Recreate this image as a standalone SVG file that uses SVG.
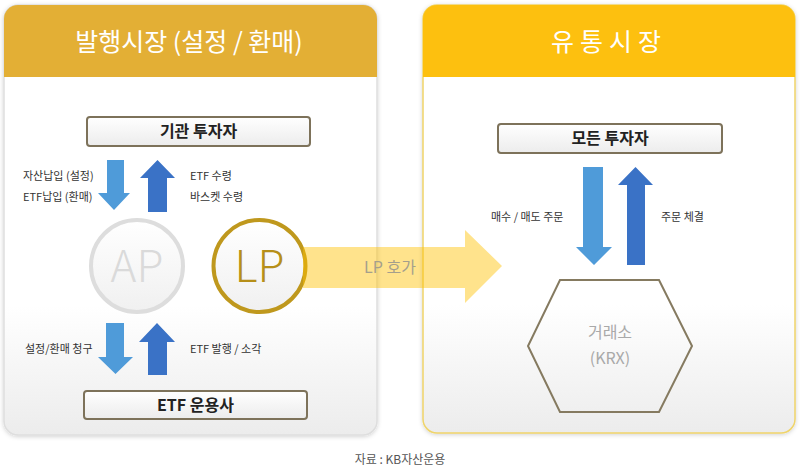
<svg xmlns="http://www.w3.org/2000/svg" width="801" height="473" viewBox="0 0 801 473">
<defs>
<linearGradient id="panelG" x1="0" y1="0" x2="0" y2="1">
<stop offset="0" stop-color="#ffffff"/><stop offset="0.7" stop-color="#ffffff"/><stop offset="1" stop-color="#ececec"/>
</linearGradient>
<linearGradient id="boxG" x1="0" y1="0" x2="0" y2="1">
<stop offset="0" stop-color="#ffffff"/><stop offset="1" stop-color="#ececec"/>
</linearGradient>
<linearGradient id="circG" x1="0" y1="0" x2="0" y2="1">
<stop offset="0" stop-color="#ffffff"/><stop offset="1" stop-color="#f0f0f0"/>
</linearGradient>
<filter id="sh" x="-5%" y="-5%" width="110%" height="110%">
<feDropShadow dx="0" dy="1" stdDeviation="2" flood-color="#000" flood-opacity="0.18"/>
</filter>
</defs>
<style>
text{font-family:"Noto Sans CJK KR","Noto Sans",sans-serif}
.hd{fill:#fff;font-size:25px;text-anchor:middle}
.bx{fill:url(#boxG);stroke:#7d725a;stroke-width:2}
.bt{font-size:16px;font-weight:bold;fill:#222;text-anchor:middle}
.lb{font-size:11px;fill:#333}
.dn{fill:#4f9bd9}
.up{fill:#3a72c6}
.cl{font-size:44px;text-anchor:middle;font-weight:300}
</style>
<g id="panel-left">
<rect x="4" y="5" width="373" height="430" rx="14" fill="url(#panelG)" stroke="#dedede" stroke-width="1.5" filter="url(#sh)"/>
<path d="M4 77 V19 a14 14 0 0 1 14 -14 H363 a14 14 0 0 1 14 14 V77 Z" fill="#e3af35"/>
<text class="hd" x="189" y="51">발행시장 (설정 / 환매)</text>
</g>
<g id="panel-right">
<rect x="423" y="5" width="372" height="428" rx="14" fill="url(#panelG)" stroke="#efd46a" stroke-width="1.5" filter="url(#sh)"/>
<path d="M423 77 V19 a14 14 0 0 1 14 -14 H781 a14 14 0 0 1 14 14 V77 Z" fill="#fdc00f"/>
<text class="hd" x="609" y="51" letter-spacing="6">유통시장</text>
</g>
<g id="node-institutional">
<rect class="bx" x="87" y="117" width="223" height="29" rx="3"/>
<text class="bt" x="198.5" y="137">기관 투자자</text>
</g>
<g id="node-ap">
<circle cx="137" cy="266" r="46" fill="url(#circG)" stroke="#dddddd" stroke-width="4"/>
<text class="cl" x="137" y="282" fill="#dadada">AP</text>
</g>
<g id="node-lp">
<circle cx="259.5" cy="266" r="46" fill="url(#circG)" stroke="#bf981d" stroke-width="4"/>
<text class="cl" x="259.5" y="282" fill="#b68f19">LP</text>
</g>
<g id="node-manager">
<rect class="bx" x="84" y="391" width="223" height="28" rx="3"/>
<text class="bt" x="195.5" y="411">ETF 운용사</text>
</g>
<g id="node-all-investors">
<rect class="bx" x="498" y="124" width="224" height="29" rx="3"/>
<text class="bt" x="610" y="144">모든 투자자</text>
</g>
<g id="node-krx">
<polygon points="560,280 659,280 692,346 659,412 560,412 528,346" fill="none" stroke="#857a60" stroke-width="2"/>
<text x="610" y="338" font-size="16" fill="#a9a9a9" text-anchor="middle">거래소</text>
<text x="610" y="364" font-size="16" fill="#a9a9a9" text-anchor="middle">(KRX)</text>
</g>
<g id="connectors">
<polygon class="dn" points="107,160 124,160 124,193 130,193 114,210 98,193 107,193"/>
<polygon class="up" points="148,212 167,212 167,178 175,178 157.5,160 140,178 148,178"/>
<polygon class="dn" points="106,323 124,323 124,357 133,357 115.5,374 98,357 106,357"/>
<polygon class="up" points="148,375 167,375 167,342 175,342 157,323 139,342 148,342"/>
<polygon class="dn" points="583,167 603,167 603,247 612,247 594,265 576,247 583,247"/>
<polygon class="up" points="627,265 645,265 645,185 653,185 635.5,167 618,185 627,185"/>
<polygon points="303,247 465,247 465,230 502,266 465,303 465,288 303,288" fill="#ffc000" fill-opacity="0.45"/>
<text x="390" y="273" font-size="16" fill="#a59f8c" text-anchor="middle">LP 호가</text>
<text class="lb" x="23" y="180">자산납입 (설정)</text>
<text class="lb" x="23" y="201">ETF납입 (환매)</text>
<text class="lb" x="190" y="180">ETF 수령</text>
<text class="lb" x="190" y="201">바스켓 수령</text>
<text class="lb" x="25" y="353">설정/환매 청구</text>
<text class="lb" x="190" y="353">ETF 발행 / 소각</text>
<text class="lb" x="491" y="221">매수 / 매도 주문</text>
<text class="lb" x="661" y="221">주문 체결</text>
</g>
<text x="400" y="464" font-size="12" fill="#555" text-anchor="middle">자료 : KB자산운용</text>
</svg>
